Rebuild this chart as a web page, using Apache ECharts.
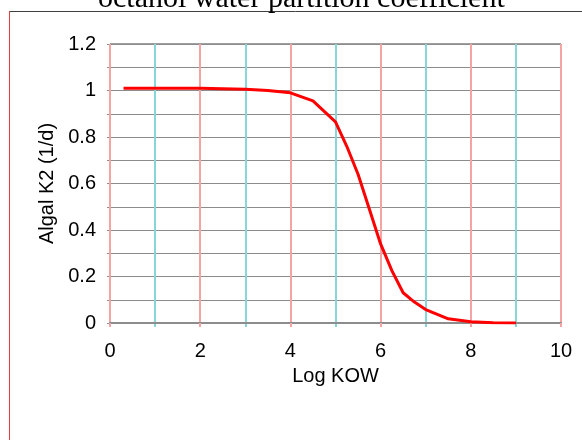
<!DOCTYPE html>
<html>
<head>
<meta charset="utf-8">
<script src="https://cdn.jsdelivr.net/npm/echarts@6/dist/echarts.min.js"></script>
<style>
  html, body { margin: 0; padding: 0; background: #fff; }
  #mychart { width: 582px; height: 440px; }
</style>
</head>
<body>
<div id="mychart"></div>
<script>
"use strict";
const titleText = 'octanol water partition coefficient';
const logKow = [0.3, 1, 2, 2.5, 3, 3.5, 4, 4.5, 5, 5.25, 5.5, 5.75, 6, 6.25, 6.5, 6.75, 7, 7.5, 8, 8.5, 9];
const algalK2 = [1.01, 1.01, 1.01, 1.008, 1.005, 1.0, 0.99, 0.955, 0.865, 0.76, 0.64, 0.49, 0.34, 0.225, 0.13, 0.09, 0.058, 0.018, 0.005, 0.001, 0];
const evenGridColor = '#f5a3a3';
const oddGridColor = '#86d8d8';

const container = document.getElementById('mychart');
const myChart = echarts.init(container);
const labelFont = { color: '#000', fontSize: 20, fontFamily: 'Liberation Sans, Arial, sans-serif' };

const option = {
    animation: false,
    title: {
        text: titleText,
        left: 98,
        top: -16,
        padding: 0,
        textStyle: {
            fontFamily: 'Liberation Serif, Times New Roman, serif',
            fontWeight: 'normal',
            fontSize: 30,
            color: '#000'
        }
    },
    graphic: [
        { type: 'line', shape: { x1: 9, y1: 11.5, x2: 582, y2: 11.5 }, style: { stroke: '#404040', lineWidth: 1 } },
        { type: 'line', shape: { x1: 9.5, y1: 11, x2: 9.5, y2: 440 }, style: { stroke: '#ee3a3a', lineWidth: 1 } }
    ],
    grid: {
        left: 110,
        right: 21,
        top: 44,
        bottom: 117,
        show: true,
        borderColor: '#404040',
        borderWidth: 1
    },
    xAxis: [
        {
            // a line at every integer; the even ones are covered by the second axis
            type: 'value',
            min: 0,
            max: 10,
            interval: 1,
            position: 'bottom',
            z: 3,
            axisLine: { show: false },
            axisTick: { show: true, length: 4, lineStyle: { color: oddGridColor, width: 2 } },
            axisLabel: { show: false },
            splitLine: { show: true, lineStyle: { color: oddGridColor, width: 2 } }
        },
        {
            type: 'value',
            min: 0,
            max: 10,
            interval: 2,
            position: 'bottom',
            z: 4,
            name: 'Log KOW',
            nameLocation: 'middle',
            nameGap: 43,
            nameTextStyle: labelFont,
            axisLine: { lineStyle: { color: '#8c8c8c', width: 2 } },
            axisTick: { show: true, length: 4, lineStyle: { color: evenGridColor, width: 2 } },
            axisLabel: Object.assign({ margin: 18 }, labelFont),
            splitLine: { show: true, lineStyle: { color: evenGridColor, width: 2 } }
        }
    ],
    yAxis: {
        type: 'value',
        min: 0,
        max: 1.2,
        interval: 0.1,
        z: 1,
        name: 'Algal K2 (1/d)',
        nameLocation: 'middle',
        nameGap: 45,
        nameTextStyle: labelFont,
        axisLine: { show: true, lineStyle: { color: '#b08888', width: 1 } },
        axisTick: { show: true, length: 3, lineStyle: { color: '#8c8c8c' } },
        axisLabel: Object.assign({
            margin: 14,
            formatter: v => {
                const t = Math.round(v * 10);
                return t % 2 === 0 ? String(t / 10) : '';
            }
        }, labelFont),
        splitLine: { show: true, lineStyle: { color: '#8c8c8c', width: 1 } }
    },
    series: [
        {
            type: 'line',
            xAxisIndex: 1,
            data: logKow.map((x, i) => [x, algalK2[i]]),
            showSymbol: false,
            symbol: 'none',
            lineStyle: { color: '#ff0000', width: 3 },
            z: 5
        }
    ]
};
myChart.setOption(option);
</script>
</body>
</html>
